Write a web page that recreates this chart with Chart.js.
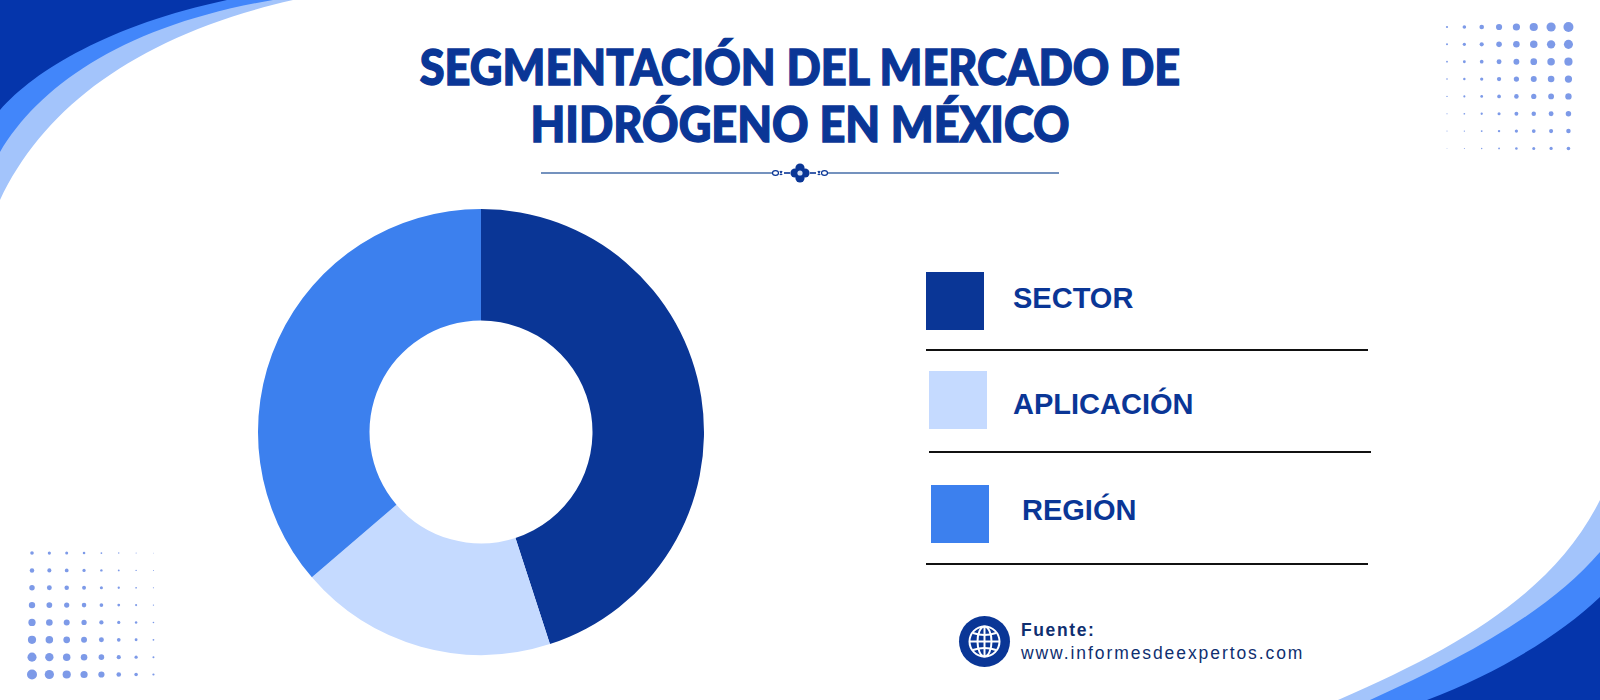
<!DOCTYPE html>
<html lang="es">
<head>
<meta charset="utf-8">
<title>Segmentación del mercado de hidrógeno en México</title>
<script src="https://cdn.jsdelivr.net/npm/chart.js@4/dist/chart.umd.min.js"></script>
<style>
html, body { margin: 0; padding: 0; background: #fff; }
#page { position: relative; width: 1600px; height: 700px; overflow: hidden; background: #fff; font-family: "Liberation Sans", Arial, sans-serif; }
#bg { position: absolute; left: 0; top: 0; }
#title { position: absolute; left: 300px; width: 1000px; top: 38px; margin: 0; text-align: center; color: #0a3696; font-family: Lato, sans-serif; font-weight: 900; font-size: 48.6px; line-height: 57px; transform: scaleX(0.928); -webkit-text-stroke: 1.4px #0a3696; }
#chartBox { position: absolute; left: 251px; top: 201.5px; width: 460px; height: 460px; }
.swatch { position: absolute; width: 58px; height: 58px; }
.label { position: absolute; color: #0a3696; font-weight: bold; font-size: 29px; line-height: 34px; }
.rule { position: absolute; width: 442px; height: 2px; background: #111; }
#fuente { position: absolute; left: 1021px; top: 619px; color: #0f2f70; font-size: 17.5px; line-height: 23px; letter-spacing: 1.92px; }
#fuente b { letter-spacing: 1.6px; }
</style>
</head>
<body>
<div id="page">
  <svg id="bg" width="1600" height="700" viewBox="0 0 1600 700">
    <path d="M0 200C45 105 140 35 293 0H0Z" fill="#a3c4fb"/>
    <path d="M0 152C40 85 125 25 273 0H0Z" fill="#4286fa"/>
    <path d="M0 110C35 70 110 25 227 0H0Z" fill="#0535ab"/>
    <path d="M1600 500C1555 590 1465 645 1338 700H1600Z" fill="#a3c4fb"/>
    <path d="M1600 552C1550 610 1470 655 1370 700H1600Z" fill="#4286fa"/>
    <path d="M1600 597C1560 635 1500 672 1427 700H1600Z" fill="#0535ab"/>
    <g id="dots" fill="#7d9ae8"></g>
    <g stroke="#466ea8" stroke-width="1.6">
      <line x1="541" y1="173" x2="772" y2="173"/>
      <line x1="827" y1="173" x2="1059" y2="173"/>
    </g>
    <g stroke="#0a3696" stroke-width="1.6">
      <line x1="784" y1="173" x2="790" y2="173"/>
      <line x1="810" y1="173" x2="816" y2="173"/>
    </g>
    <g fill="none" stroke="#0a3696" stroke-width="1.2">
      <ellipse cx="775.5" cy="173" rx="3" ry="2.4"/>
      <ellipse cx="824.5" cy="173" rx="3" ry="2.4"/>
      <path d="M780 171L782 175M782 171L780 175M818 171L820 175M820 171L818 175"/>
    </g>
    <g fill="#0a3696">
      <circle cx="800" cy="168" r="4.6"/>
      <circle cx="800" cy="178" r="4.6"/>
      <circle cx="795" cy="173" r="4.6"/>
      <circle cx="805" cy="173" r="4.6"/>
    </g>
    <circle cx="800" cy="173" r="2.6" fill="#cfdcf2"/>
    <circle cx="984.5" cy="641.5" r="25.5" fill="#0a3696"/>
    <g fill="none" stroke="#fff" stroke-width="2">
      <circle cx="984.5" cy="641.5" r="15"/>
      <ellipse cx="984.5" cy="641.5" rx="7" ry="15"/>
      <line x1="984.5" y1="627" x2="984.5" y2="656"/>
      <line x1="970" y1="641.5" x2="999" y2="641.5"/>
      <path d="M973 633Q984.5 637 996 633M973 650Q984.5 646 996 650"/>
    </g>
  </svg>

  <h1 id="title">SEGMENTACIÓN DEL MERCADO DE<br>HIDRÓGENO EN MÉXICO</h1>

  <div id="chartBox"><canvas id="segChart"></canvas></div>

  <div id="legend"></div>

  <div id="fuente"><b>Fuente:</b><br>www.informesdeexpertos.com</div>
</div>

<script>
const categories = ['SECTOR', 'APLICACIÓN', 'REGIÓN'];
const shares = [45, 18.7, 36.3];
const colors = ['#0a3696', '#c5daff', '#3c80ee'];

// legend rows, same order as the categories
const swatchPos = [[926, 272], [929, 371], [931, 485]];
const labelPos = [[1013, 281], [1013, 387], [1022, 493]];
const rulePos = [[926, 349], [929, 451], [926, 563]];

const legend = document.getElementById('legend');
categories.forEach((name, i) => {
    const sw = document.createElement('div');
    sw.className = 'swatch';
    sw.style.cssText = `left:${swatchPos[i][0]}px;top:${swatchPos[i][1]}px;background:${colors[i]}`;
    const lab = document.createElement('div');
    lab.className = 'label';
    lab.style.cssText = `left:${labelPos[i][0]}px;top:${labelPos[i][1]}px`;
    lab.textContent = name;
    const rule = document.createElement('div');
    rule.className = 'rule';
    rule.style.cssText = `left:${rulePos[i][0]}px;top:${rulePos[i][1]}px`;
    legend.append(sw, lab, rule);
});

// halftone corners: dot radius per column on the big and small rows
const dotBig = [1.1, 1.8, 2.3, 3.1, 3.6, 4.1, 4.6, 5];
const dotSmall = [0.4, 0.5, 0.7, 0.9, 1.3, 1.5, 1.6, 1.8];
const dots = document.getElementById('dots');
function addDot(cx, cy, r) {
    const c = document.createElementNS('http://www.w3.org/2000/svg', 'circle');
    c.setAttribute('cx', cx);
    c.setAttribute('cy', cy);
    c.setAttribute('r', r);
    dots.appendChild(c);
}
for (let row = 0; row < 8; row++) {
    for (let col = 0; col < 8; col++) {
        const size = dotBig[col] + (dotSmall[col] - dotBig[col]) * row / 7;
        addDot(1447 + col * 17.35, 27 + row * 17.35, size);
        addDot(32 + (7 - col) * 17.35, 674.5 - row * 17.35, size);
    }
}

new Chart(document.getElementById('segChart'), {
    type: 'doughnut',
    data: {
        labels: categories,
        datasets: [{
            data: shares,
            backgroundColor: colors,
            borderWidth: 0
        }]
    },
    options: {
        responsive: true,
        maintainAspectRatio: false,
        animation: false,
        cutout: '50%',
        layout: { padding: 7 },
        plugins: {
            legend: { display: false },
            tooltip: { enabled: false }
        }
    }
});
</script>
</body>
</html>
